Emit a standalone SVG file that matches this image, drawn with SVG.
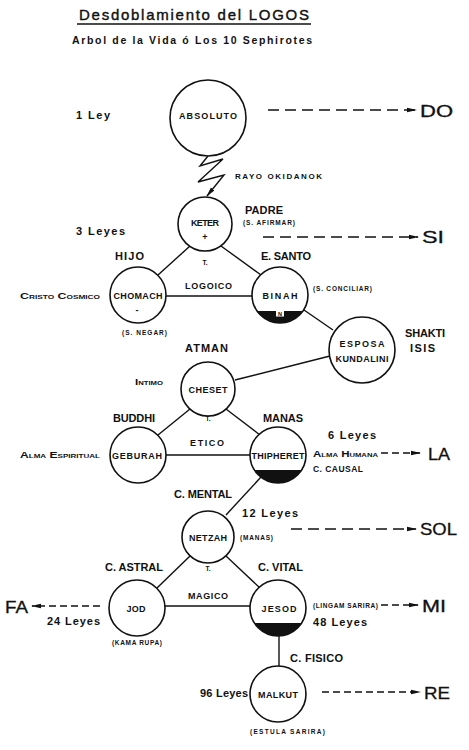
<svg xmlns="http://www.w3.org/2000/svg" width="469" height="750" viewBox="0 0 469 750">
<defs>
<style>
text{font-family:"Liberation Sans","DejaVu Sans",Arial,sans-serif;font-weight:bold;fill:#111}
.n{font-size:9px;text-anchor:middle}
.l{font-size:11px}
.s{font-size:6.5px}
.sc{font-size:9px;font-variant:small-caps}
.big{font-size:17px;font-weight:normal;stroke:#111;stroke-width:0.3}
.c{text-anchor:middle}
.node{fill:#fff;stroke:#111;stroke-width:1.6}
.edge{stroke:#111;stroke-width:1.4;fill:none}
.dash{stroke:#111;stroke-width:1.6;fill:none;stroke-dasharray:11 6}
.dash2{stroke:#111;stroke-width:1.4;fill:none;stroke-dasharray:7 4}
.blk{fill:#111}
</style>
<marker id="ah" viewBox="0 0 10 6" refX="9" refY="3" markerWidth="10" markerHeight="6" markerUnits="userSpaceOnUse" orient="auto">
<path d="M0,0.8 L10,3 L0,5.2 Z" fill="#111"/>
</marker>
</defs>
<rect width="469" height="750" fill="#fff"/>

<g id="title">
<text x="79" y="20" style="font-size:15px;font-weight:normal;stroke:#111;stroke-width:0.4" textLength="230" lengthAdjust="spacing">Desdoblamiento del LOGOS</text>
<line x1="77" y1="24" x2="311" y2="24" stroke="#111" stroke-width="1.5"/>
<text x="72" y="44" style="font-size:10.5px" textLength="240" lengthAdjust="spacing">Arbol de la Vida ó Los 10 Sephirotes</text>
</g>

<g id="connectors">
<path class="edge" d="M208,156 L200,166 L223,159 L198,182 L224,175 L207,196" marker-end="url(#ah)"/>
<line class="edge" x1="190" y1="246" x2="158" y2="275"/>
<line class="edge" x1="221" y1="246" x2="261" y2="275"/>
<line class="edge" x1="166" y1="296" x2="252" y2="296"/>
<line class="edge" x1="304" y1="310" x2="333" y2="330"/>
<line class="edge" x1="330" y1="356" x2="235" y2="380"/>
<line class="edge" x1="190" y1="409" x2="158" y2="435"/>
<line class="edge" x1="226" y1="409" x2="260" y2="435"/>
<line class="edge" x1="166" y1="455" x2="250" y2="455"/>
<line class="edge" x1="261" y1="477" x2="226" y2="515"/>
<line class="edge" x1="190" y1="556" x2="157" y2="588"/>
<line class="edge" x1="226" y1="556" x2="260" y2="588"/>
<line class="edge" x1="165" y1="606" x2="250" y2="606"/>
<line class="edge" x1="279" y1="636" x2="279" y2="667"/>
<line class="dash" x1="268" y1="110" x2="416" y2="110" marker-end="url(#ah)"/>
<line class="dash" x1="263" y1="237" x2="418" y2="237" marker-end="url(#ah)"/>
<line class="dash2" x1="381" y1="453" x2="420" y2="453" marker-end="url(#ah)"/>
<line class="dash" x1="291" y1="529" x2="416" y2="529" marker-end="url(#ah)"/>
<line class="dash2" x1="100" y1="606" x2="32" y2="606" marker-end="url(#ah)"/>
<line class="dash2" x1="381" y1="605" x2="418" y2="605" marker-end="url(#ah)"/>
<line class="dash2" x1="322" y1="692" x2="420" y2="692" marker-end="url(#ah)"/>
</g>

<g id="absoluto">
<circle class="node" cx="208" cy="118" r="38"/>
<text class="n" x="208" y="119" textLength="58">ABSOLUTO</text>
</g>
<g id="keter">
<circle class="node" cx="205" cy="224" r="27"/>
<text class="n" x="205" y="226" textLength="28">KETER</text>
<text class="n" x="205" y="240">+</text>
</g>
<g id="chomach">
<circle class="node" cx="138" cy="295" r="28"/>
<text class="n" x="138" y="299" textLength="49">CHOMACH</text>
<text class="n" x="137" y="313">-</text>
</g>
<g id="binah">
<circle class="node" cx="280" cy="295" r="28"/>
<path class="blk" d="M257,311 A28,28 0 0,0 303,311 Z"/>
<rect x="276" y="310.5" width="8" height="6" fill="#fff"/>
<text x="280" y="316" style="font-size:5.5px;text-anchor:middle">N</text>
<text class="n" x="280" y="299" textLength="35">BINAH</text>
</g>
<g id="esposa">
<circle class="node" cx="362" cy="350" r="33"/>
<text class="n" x="362" y="347" textLength="45">ESPOSA</text>
<text class="n" x="362" y="362" textLength="53">KUNDALINI</text>
</g>
<g id="cheset">
<circle class="node" cx="208" cy="389" r="27"/>
<text class="n" x="208" y="393" textLength="39">CHESET</text>
</g>
<g id="geburah">
<circle class="node" cx="138" cy="455" r="28"/>
<text class="n" x="137" y="459" textLength="50">GEBURAH</text>
</g>
<g id="thipheret">
<circle class="node" cx="278" cy="455" r="28"/>
<path class="blk" d="M254.4,470 A28,28 0 0,0 301.6,470 Z"/>
<text class="n" x="278" y="459" textLength="53">THIPHERET</text>
</g>
<g id="netzah">
<circle class="node" cx="208" cy="537" r="26"/>
<text class="n" x="208" y="541" textLength="38">NETZAH</text>
</g>
<g id="jod">
<circle class="node" cx="137" cy="608" r="28"/>
<text class="n" x="136" y="612" textLength="19">JOD</text>
</g>
<g id="jesod">
<circle class="node" cx="278" cy="608" r="28"/>
<path class="blk" d="M254.4,623 A28,28 0 0,0 301.6,623 Z"/>
<text class="n" x="279" y="612" textLength="35">JESOD</text>
</g>
<g id="malkut">
<circle class="node" cx="278" cy="694" r="28"/>
<text class="n" x="278" y="698" textLength="40">MALKUT</text>
</g>

<g id="labels">
<text class="l" x="76" y="119" textLength="34">1 Ley</text>
<text class="big" x="420" y="117" textLength="33" lengthAdjust="spacingAndGlyphs">DO</text>
<text x="235" y="179" style="font-size:8px" textLength="87">RAYO OKIDANOK</text>
<text class="l" x="245" y="214" textLength="38">PADRE</text>
<text class="s" x="243" y="225" textLength="52">(S. AFIRMAR)</text>
<text class="l" x="76" y="235" textLength="49">3 Leyes</text>
<text class="big" x="422" y="243" textLength="22" lengthAdjust="spacingAndGlyphs">SI</text>
<text class="l" x="115" y="260" textLength="29">HIJO</text>
<text class="l" x="261" y="260" textLength="50">E. SANTO</text>
<text class="c" x="205" y="265" style="font-size:6.5px">T.</text>
<text x="185" y="289" style="font-size:9px" textLength="47">LOGOICO</text>
<text class="sc" x="20" y="299" textLength="80" lengthAdjust="spacingAndGlyphs">Cristo Cosmico</text>
<text class="s" x="313" y="291" textLength="59">(S. CONCILIAR)</text>
<text class="s" x="122" y="335" textLength="45">(S. NEGAR)</text>
<text class="l" x="185" y="352" textLength="43">ATMAN</text>
<text class="l" x="405" y="337" textLength="40">SHAKTI</text>
<text class="l" x="410" y="352" textLength="25">ISIS</text>
<text class="sc" x="135" y="385" textLength="28" lengthAdjust="spacingAndGlyphs">Intimo</text>
<text class="c" x="208" y="421" style="font-size:6.5px">T.</text>
<text class="l" x="113" y="422" textLength="42">BUDDHI</text>
<text class="l" x="263" y="422" textLength="40">MANAS</text>
<text x="190" y="446" style="font-size:9px" textLength="34">ETICO</text>
<text class="sc" x="20" y="458" textLength="80" lengthAdjust="spacingAndGlyphs">Alma Espiritual</text>
<text class="l" x="328" y="439" textLength="48">6 Leyes</text>
<text class="sc" x="313" y="457" textLength="65" lengthAdjust="spacingAndGlyphs">Alma Humana</text>
<text class="big" x="428" y="460" textLength="22" lengthAdjust="spacingAndGlyphs">LA</text>
<text x="313" y="472" style="font-size:8.5px" textLength="50">C. CAUSAL</text>
<text class="l" x="174" y="498" textLength="58">C. MENTAL</text>
<text class="l" x="242" y="517" textLength="56">12 Leyes</text>
<text class="s" x="240" y="540" textLength="33">(MANAS)</text>
<text class="big" x="420" y="535" textLength="37" lengthAdjust="spacingAndGlyphs">SOL</text>
<text class="c" x="208" y="571" style="font-size:6.5px">T.</text>
<text class="l" x="105" y="571" textLength="58">C. ASTRAL</text>
<text class="l" x="258" y="571" textLength="45">C. VITAL</text>
<text x="188" y="599" style="font-size:9px" textLength="40">MAGICO</text>
<text class="big" x="5" y="613" textLength="23" lengthAdjust="spacingAndGlyphs">FA</text>
<text class="l" x="47" y="625" textLength="53">24 Leyes</text>
<text class="s" x="112" y="645" textLength="50">(KAMA RUPA)</text>
<text class="s" x="313" y="608" textLength="65">(LINGAM SARIRA)</text>
<text class="big" x="422" y="612" textLength="24" lengthAdjust="spacingAndGlyphs">MI</text>
<text class="l" x="313" y="626" textLength="54">48 Leyes</text>
<text class="l" x="290" y="662" textLength="53">C. FISICO</text>
<text class="l" x="200" y="697" textLength="48">96 Leyes</text>
<text class="big" x="424" y="699" textLength="26" lengthAdjust="spacingAndGlyphs">RE</text>
<text class="s" x="250" y="734" textLength="75">(ESTULA SARIRA)</text>
</g>
</svg>
